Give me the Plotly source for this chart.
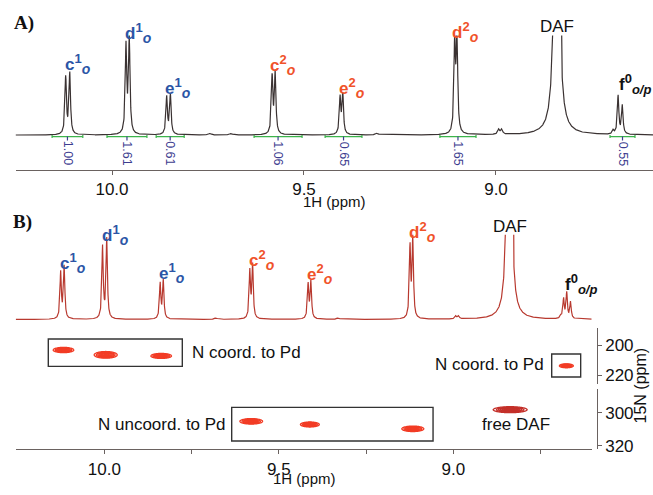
import numpy as np
import plotly.graph_objects as go

W, H = 653, 495
FONT = "Liberation Sans, Arial, sans-serif"
BLUE = "#2c55a6"
ORANGE = "#f0522a"
INT_COL = "#3d3d8f"
GREEN = "#3cb44b"

# ---------------- Panel A: 1H spectrum peaks (ppm, intensity, half-width ppm)
A_peak_ppm = [10.1206, 10.1100, 9.9635, 9.9550, 9.8576, 9.8480, 9.5830, 9.5750,
              9.4060, 9.3990, 9.1075, 9.1016, 8.8420, 8.6950, 8.6820, 8.6710,
              8.9930, 8.9850, 9.3100, 9.7450, 9.6900]
A_peak_int = [58, 62, 89, 96, 38, 40, 58, 62, 37, 40, 92, 97, 512, 4, 39, 29,
              5, 5, 2, 1.5, 1.5]
A_peak_hw = [0.0023] * 12 + [0.0052] + [0.0023] * 3 + [0.003, 0.003, 0.004, 0.004, 0.004]

A_labels = ["c", "d", "e", "c", "e", "d"]
A_label_sup = ["1", "1", "1", "2", "2", "2"]
A_label_ppm = [10.128, 9.971, 9.867, 9.594, 9.414, 9.120]
A_label_ypx = [65, 33, 89.5, 66, 89, 32.5]
A_label_col = [BLUE, BLUE, BLUE, ORANGE, ORANGE, ORANGE]

# integrals
A_int_lo = [10.156, 10.013, 9.885, 9.630, 9.445, 9.146, 8.703]
A_int_hi = [10.076, 9.909, 9.812, 9.505, 9.349, 9.052, 8.638]
A_int_val = ["1.00", "1.61", "0.61", "1.06", "0.65", "1.65", "0.55"]

# ---------------- Panel B: 1H spectrum peaks
B_peak_ppm = [10.125, 10.115, 10.005, 9.993, 9.840, 9.831, 9.583, 9.575,
              9.416, 9.408, 9.124, 9.116, 8.840, 8.692, 8.684, 8.675, 8.664,
              8.993, 8.985, 9.330, 9.680]
B_peak_int = [47, 53, 73, 81, 36, 39, 48, 54, 35, 38, 72, 82, 800, 3, 20, 26, 17,
              3, 3, 1.5, 1.5]
B_peak_hw = [0.0023] * 12 + [0.0037] + [0.0023] * 4 + [0.003, 0.003, 0.004, 0.004]

B_label_ppm = [10.133, 10.012, 9.849, 9.591, 9.425, 9.133]
B_label_ypx = [266.7, 238, 277, 264, 278, 235.5]

# ---------------- 2D 1H-15N cross peaks
up_x = [10.117, 9.996, 9.837, 8.676]
up_y = [203.3, 206.5, 207.2, 213.7]
up_wx = [0.059, 0.066, 0.059, 0.040]
up_wy = [3.5, 4.4, 3.3, 2.6]
lo_x = [9.579, 9.411, 9.116]
lo_y = [305.2, 307.1, 309.7]
lo_wx = [0.065, 0.054, 0.063]
lo_wy = [3.3, 3.0, 3.3]
daf_x = [8.837]
daf_y = [298.2]
daf_wx = [0.097]
daf_wy = [3.6]

# axis ranges
A_range = [10.2513, 8.5911]
B_range = [10.2539, 8.6034]


def spectrum(rng, ppm, inten, hw):
    x = np.arange(rng[1], rng[0], 0.0004)
    y = np.zeros_like(x)
    for p, h, g in zip(ppm, inten, hw):
        y += h * g * g / ((x - p) ** 2 + g * g)
    return x, y


def cross_peaks(xs, ys, wxs, wys):
    traces = []
    for cx, cy, wx, wy in zip(xs, ys, wxs, wys):
        sx = wx / 2 / 2.146
        sy = wy / 2 / 2.146
        gx = np.linspace(cx - 4 * sx, cx + 4 * sx, 70)
        gy = np.linspace(cy - 4 * sy, cy + 4 * sy, 60)
        X, Y = np.meshgrid(gx, gy)
        Z = np.exp(-((X - cx) ** 2) / (2 * sx * sx) - ((Y - cy) ** 2) / (2 * sy * sy))
        traces.append((gx, gy, Z))
    return traces


def px_y(py):
    return 1 - py / H


def px_x(px):
    return px / W


fig = go.Figure()

# Spectrum A
ax_, ay_ = spectrum(A_range, A_peak_ppm, A_peak_int, A_peak_hw)
fig.add_trace(go.Scatter(x=ax_, y=ay_, mode="lines", line=dict(color="#3a3232", width=1.2),
                         xaxis="x", yaxis="y", hoverinfo="skip", showlegend=False))

# integrals
for lo, hi in zip(A_int_lo, A_int_hi):
    fig.add_trace(go.Scatter(x=[lo, lo, None, lo, hi, None, hi, hi],
                             y=[0, -3, None, -1.5, -1.5, None, 0, -3],
                             mode="lines", line=dict(color=GREEN, width=1.2),
                             xaxis="x", yaxis="y", hoverinfo="skip", showlegend=False))
    mid = (lo + hi) / 2
    fig.add_trace(go.Scatter(x=[mid, mid], y=[-1.5, -5.5], mode="lines",
                             line=dict(color=INT_COL, width=1.2),
                             xaxis="x", yaxis="y", hoverinfo="skip", showlegend=False))

# Spectrum B
bx_, by_ = spectrum(B_range, B_peak_ppm, B_peak_int, B_peak_hw)
fig.add_trace(go.Scatter(x=bx_, y=by_, mode="lines", line=dict(color="#b8392f", width=1.2),
                         xaxis="x2", yaxis="y3", hoverinfo="skip", showlegend=False))


# Cross peaks
def add_cp(xs, ys, wxs, wys, yax, color):
    for gx, gy, Z in cross_peaks(xs, ys, wxs, wys):
        fig.add_trace(go.Contour(x=gx, y=gy, z=Z, xaxis="x2", yaxis=yax,
                                 contours=dict(start=0.1, end=0.95, size=0.12, coloring="lines"),
                                 colorscale=[[0, color], [1, color]], showscale=False,
                                 line=dict(width=1.3), hoverinfo="skip"))


add_cp(up_x, up_y, up_wx, up_wy, "y5", "#f23c25")
add_cp(lo_x, lo_y, lo_wx, lo_wy, "y4", "#f23c25")
add_cp(daf_x, daf_y, daf_wx, daf_wy, "y4", "#c4302a")

annotations = []

# Panel labels
annotations.append(dict(text="<b>A)</b>", x=px_x(12), y=px_y(23), xref="paper", yref="paper",
                        xanchor="left", yanchor="middle", showarrow=False,
                        font=dict(family="Liberation Serif, Times New Roman, serif", size=19, color="#111")))
annotations.append(dict(text="<b>B)</b>", x=px_x(11), y=px_y(225), xref="paper", yref="paper",
                        xanchor="left", yanchor="middle", showarrow=False,
                        font=dict(family="Liberation Serif, Times New Roman, serif", size=19, color="#111")))


def peak_label(base, sup, sub="o"):
    return (f"<b>{base}<sup><span style=\"font-size:13px\">{sup}</span></sup>"
            f"<sub><span style=\"font-size:14px\"><i>{sub}</i></span></sub></b>")


for lab, sup, xp, yp, col in zip(A_labels, A_label_sup, A_label_ppm, A_label_ypx, A_label_col):
    annotations.append(dict(text=peak_label(lab, sup), x=xp, y=px_y(yp), xref="x", yref="paper",
                            xanchor="left", yanchor="middle", showarrow=False,
                            font=dict(family=FONT, size=17, color=col)))
for lab, sup, xp, yp, col in zip(A_labels, A_label_sup, B_label_ppm, B_label_ypx, A_label_col):
    annotations.append(dict(text=peak_label(lab, sup), x=xp, y=px_y(yp), xref="x2", yref="paper",
                            xanchor="left", yanchor="middle", showarrow=False,
                            font=dict(family=FONT, size=17, color=col)))

# DAF and f0 labels
annotations.append(dict(text="DAF", x=8.840, y=px_y(27), xref="x", yref="paper", xanchor="center",
                        yanchor="middle", showarrow=False, font=dict(family=FONT, size=17, color="#111")))
annotations.append(dict(text="DAF", x=8.838, y=px_y(230), xref="x2", yref="paper", xanchor="center",
                        yanchor="middle", showarrow=False, font=dict(family=FONT, size=17, color="#111")))
f0_text = ("<b>f<sup><span style=\"font-size:13px\">0</span></sup>"
           "<sub><span style=\"font-size:13px\"><i>o/p</i></span></sub></b>")
annotations.append(dict(text=f0_text, x=8.686, y=px_y(85), xref="x",
                        yref="paper", xanchor="left", yanchor="middle", showarrow=False,
                        font=dict(family=FONT, size=17, color="#111")))
annotations.append(dict(text=f0_text, x=8.686, y=px_y(288), xref="x2",
                        yref="paper", xanchor="left", yanchor="middle", showarrow=False,
                        font=dict(family=FONT, size=17, color="#111")))

# integral values
for lo, hi, v in zip(A_int_lo, A_int_hi, A_int_val):
    annotations.append(dict(text=v, x=(lo + hi) / 2, y=-18.5, xref="x", yref="y", textangle=90,
                            xanchor="center", yanchor="middle", showarrow=False,
                            font=dict(family=FONT, size=12.5, color=INT_COL)))

# axis titles
annotations += [
    dict(text="1H (ppm)", x=px_x(334), y=px_y(204), xref="paper", yref="paper", xanchor="center",
         yanchor="middle", showarrow=False, font=dict(family=FONT, size=15, color="#111")),
    dict(text="1H (ppm)", x=px_x(304), y=px_y(485), xref="paper", yref="paper", xanchor="center",
         yanchor="middle", showarrow=False, font=dict(family=FONT, size=15, color="#111")),
]

# 2D text labels
annotations += [
    dict(text="N coord. to Pd", x=9.754, y=205.2, xref="x2", yref="y5", xanchor="left",
         yanchor="middle", showarrow=False, font=dict(family=FONT, size=17, color="#111")),
    dict(text="N coord. to Pd", x=8.735, y=213.0, xref="x2", yref="y5", xanchor="right",
         yanchor="middle", showarrow=False, font=dict(family=FONT, size=17, color="#111")),
    dict(text="N uncoord. to Pd", x=9.646, y=307.1, xref="x2", yref="y4", xanchor="right",
         yanchor="middle", showarrow=False, font=dict(family=FONT, size=17, color="#111")),
    dict(text="free DAF", x=8.820, y=307.1, xref="x2", yref="y4", xanchor="center",
         yanchor="middle", showarrow=False, font=dict(family=FONT, size=17, color="#111")),
    dict(text="15N (ppm)", x=px_x(640), y=px_y(391), xref="paper", yref="paper", textangle=-90,
         xanchor="center", yanchor="middle", showarrow=False, font=dict(family=FONT, size=16, color="#111")),
]

shapes = [
    dict(type="rect", xref="x2", yref="y5", x0=10.1605, x1=9.7765, y0=196.1, y1=214.1,
         line=dict(color="#333", width=1.4)),
    dict(type="rect", xref="x2", yref="y5", x0=8.718, x1=8.635, y0=205.9, y1=221.1,
         line=dict(color="#333", width=1.4)),
    dict(type="rect", xref="x2", yref="y4", x0=9.635, x1=9.058, y0=296.8, y1=317.0,
         line=dict(color="#333", width=1.4)),
]

AXCOL = "#6a6260"
common_x = dict(showline=True, linecolor=AXCOL, linewidth=1.2, ticks="outside", ticklen=4,
                tickcolor=AXCOL, showgrid=False, zeroline=False,
                tickfont=dict(family=FONT, size=17, color="#111"))

fig.update_layout(
    width=W, height=H, margin=dict(l=0, r=0, t=0, b=0),
    paper_bgcolor="white", plot_bgcolor="rgba(0,0,0,0)", showlegend=False,
    xaxis=dict(domain=[px_x(15.5), 1.0], anchor="y", range=A_range,
               tickvals=[10.0, 9.5, 9.0], ticktext=["10.0", "9.5", "9.0"], **common_x),
    yaxis=dict(domain=[px_y(172), px_y(36)], anchor="x", range=[-35, 101], visible=False),
    xaxis2=dict(domain=[px_x(15.7), px_x(591.7)], anchor="y4", range=B_range,
                tickvals=[10.0, 9.75, 9.5, 9.25, 9.0, 8.75], ticktext=["10.0", "", "9.5", "", "9.0", ""],
                **common_x),
    yaxis3=dict(domain=[px_y(335), px_y(238)], anchor="x2", range=[-11, 86], visible=False),
    yaxis4=dict(domain=[px_y(455.7), px_y(395)], anchor="free", position=px_x(596.7), side="right",
                range=[322, 286], tickvals=[300, 320], **common_x),
    yaxis5=dict(domain=[px_y(390), px_y(333)], anchor="free", position=px_x(596.7), side="right",
                range=[226, 189], tickvals=[200, 220], **common_x),
    annotations=annotations, shapes=shapes,
)

fig.write_html("out.html")
